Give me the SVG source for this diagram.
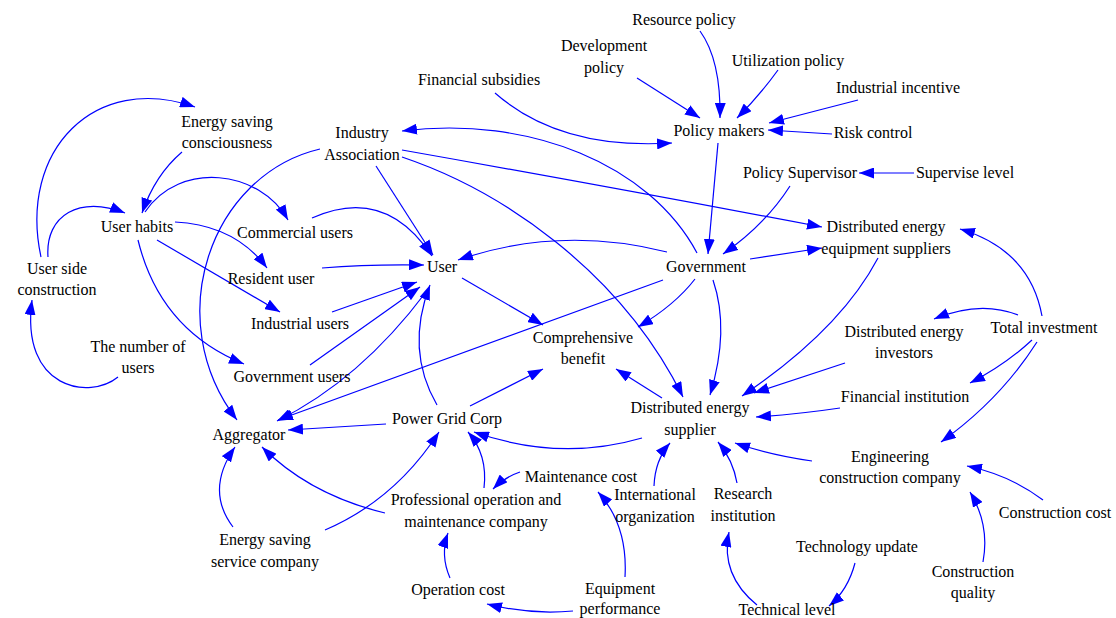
<svg xmlns="http://www.w3.org/2000/svg" width="1116" height="618" viewBox="0 0 1116 618">
<defs>
<marker id="ah" markerUnits="userSpaceOnUse" markerWidth="15" markerHeight="11" refX="15" refY="5.5" orient="auto">
<path d="M0,0 L15,5.5 L0,11 z" fill="#0000FF"/>
</marker>
<style>
#edges path{fill:none;stroke:#0000FF;stroke-width:1.2;marker-end:url(#ah)}
</style>
</defs>
<rect width="1116" height="618" fill="#fff"/>
<g id="edges">
<path d="M700 31 Q 721 60 720 118"/>
<path d="M778 70 Q 760 95 737 118"/>
<path d="M637 78 L 700 118"/>
<path d="M495 93 Q 560 150 672 143"/>
<path d="M858 100 L 769 123"/>
<path d="M832 134 L 768 130"/>
<path d="M718 143 L 708 254"/>
<path d="M790 186 Q 765 225 723 254"/>
<path d="M914 173 L 859 173"/>
<path d="M697 253 C 650 165, 530 115, 402 131"/>
<path d="M376 166 L 433 255"/>
<path d="M402 150 Q 600 185 822 227"/>
<path d="M402 157 C 500 190, 620 270, 683 397"/>
<path d="M320 149 C 210 175, 160 320, 237 420"/>
<path d="M667 252 Q 560 225 458 260"/>
<path d="M695 279 Q 675 305 638 327"/>
<path d="M713 280 Q 730 330 710 395"/>
<path d="M750 259 L 822 248"/>
<path d="M663 280 L 278 420"/>
<path d="M462 278 L 543 325"/>
<path d="M312 218 Q 385 185 432 256"/>
<path d="M322 268 Q 370 264 424 265"/>
<path d="M332 312 L 417 282"/>
<path d="M310 365 L 420 287"/>
<path d="M437 405 Q 405 350 430 285"/>
<path d="M426 292 Q 360 380 277 421"/>
<path d="M386 424 L 288 430"/>
<path d="M470 406 L 543 369"/>
<path d="M662 398 L 616 369"/>
<path d="M642 438 Q 560 462 474 432"/>
<path d="M484 488 Q 488 455 468 432"/>
<path d="M325 530 Q 395 500 439 432"/>
<path d="M233 527 Q 205 490 235 447"/>
<path d="M385 513 Q 310 495 262 447"/>
<path d="M520 472 Q 505 477 493 489"/>
<path d="M450 578 Q 440 555 448 533"/>
<path d="M573 611 Q 530 615 487 604"/>
<path d="M625 577 Q 628 525 598 492"/>
<path d="M654 486 Q 655 460 670 443"/>
<path d="M737 483 Q 733 460 718 442"/>
<path d="M812 461 Q 770 455 735 443"/>
<path d="M840 408 Q 800 414 756 417"/>
<path d="M845 363 L 754 393"/>
<path d="M878 258 Q 840 330 742 396"/>
<path d="M1042 316 Q 1030 250 960 229"/>
<path d="M1018 315 Q 980 300 934 319"/>
<path d="M1032 340 Q 1005 365 970 383"/>
<path d="M1037 342 Q 1000 400 941 442"/>
<path d="M1043 500 Q 1010 475 967 466"/>
<path d="M983 562 Q 990 525 970 492"/>
<path d="M855 563 Q 848 590 829 606"/>
<path d="M757 605 Q 720 575 729 532"/>
<path d="M41 257 C 18 150, 95 72, 195 107"/>
<path d="M48 257 C 45 215, 80 195, 125 213"/>
<path d="M118 377 C 90 400, 20 390, 32 300"/>
<path d="M182 152 Q 155 175 142 213"/>
<path d="M145 212 C 180 160, 260 170, 288 220"/>
<path d="M175 222 Q 235 225 267 268"/>
<path d="M157 240 L 280 312"/>
<path d="M138 240 Q 160 330 244 364"/>
</g>
<g font-family="'Liberation Serif', 'Times New Roman', Tinos, 'DejaVu Serif', serif" font-size="16" fill="#000" text-anchor="middle">
<g id="n-resource-policy"><text x="684" y="25">Resource policy</text></g>
<g id="n-development-policy"><text x="604" y="51">Development</text><text x="604" y="73">policy</text></g>
<g id="n-utilization-policy"><text x="788" y="66">Utilization policy</text></g>
<g id="n-financial-subsidies"><text x="479" y="85">Financial subsidies</text></g>
<g id="n-industrial-incentive"><text x="898" y="93">Industrial incentive</text></g>
<g id="n-policy-makers"><text x="719" y="136">Policy makers</text></g>
<g id="n-risk-control"><text x="873" y="138">Risk control</text></g>
<g id="n-industry-association"><text x="362" y="138">Industry</text><text x="362" y="160">Association</text></g>
<g id="n-energy-saving-consciousness"><text x="227" y="127">Energy saving</text><text x="227" y="148">consciousness</text></g>
<g id="n-policy-supervisor"><text x="800" y="178">Policy Supervisor</text></g>
<g id="n-supervise-level"><text x="965" y="178">Supervise level</text></g>
<g id="n-user-habits"><text x="137" y="232">User habits</text></g>
<g id="n-commercial-users"><text x="295" y="238">Commercial users</text></g>
<g id="n-de-equipment-suppliers"><text x="886" y="232">Distributed energy</text><text x="886" y="254">equipment suppliers</text></g>
<g id="n-user"><text x="442" y="272">User</text></g>
<g id="n-government"><text x="706" y="272">Government</text></g>
<g id="n-user-side-construction"><text x="57" y="274">User side</text><text x="57" y="295">construction</text></g>
<g id="n-resident-user"><text x="271" y="284">Resident user</text></g>
<g id="n-industrial-users"><text x="300" y="329">Industrial users</text></g>
<g id="n-de-investors"><text x="904" y="337">Distributed energy</text><text x="904" y="358">investors</text></g>
<g id="n-total-investment"><text x="1044" y="333">Total investment</text></g>
<g id="n-comprehensive-benefit"><text x="583" y="343">Comprehensive</text><text x="583" y="364">benefit</text></g>
<g id="n-number-of-users"><text x="138" y="352">The number of</text><text x="138" y="373">users</text></g>
<g id="n-government-users"><text x="292" y="382">Government users</text></g>
<g id="n-financial-institution"><text x="905" y="402">Financial institution</text></g>
<g id="n-power-grid-corp"><text x="447" y="424">Power Grid Corp</text></g>
<g id="n-de-supplier"><text x="690" y="413">Distributed energy</text><text x="690" y="435">supplier</text></g>
<g id="n-aggregator"><text x="249" y="440">Aggregator</text></g>
<g id="n-engineering-construction"><text x="890" y="462">Engineering</text><text x="890" y="483">construction company</text></g>
<g id="n-maintenance-cost"><text x="581" y="482">Maintenance cost</text></g>
<g id="n-professional-om"><text x="476" y="505">Professional operation and</text><text x="476" y="527">maintenance company</text></g>
<g id="n-international-organization"><text x="655" y="500">International</text><text x="655" y="522">organization</text></g>
<g id="n-research-institution"><text x="743" y="499">Research</text><text x="743" y="521">institution</text></g>
<g id="n-construction-cost"><text x="1055" y="518">Construction cost</text></g>
<g id="n-energy-saving-service"><text x="265" y="545">Energy saving</text><text x="265" y="567">service company</text></g>
<g id="n-technology-update"><text x="857" y="552">Technology update</text></g>
<g id="n-construction-quality"><text x="973" y="577">Construction</text><text x="973" y="598">quality</text></g>
<g id="n-operation-cost"><text x="458" y="595">Operation cost</text></g>
<g id="n-equipment-performance"><text x="620" y="594">Equipment</text><text x="620" y="614">performance</text></g>
<g id="n-technical-level"><text x="787" y="615">Technical level</text></g>
</g>
</svg>
